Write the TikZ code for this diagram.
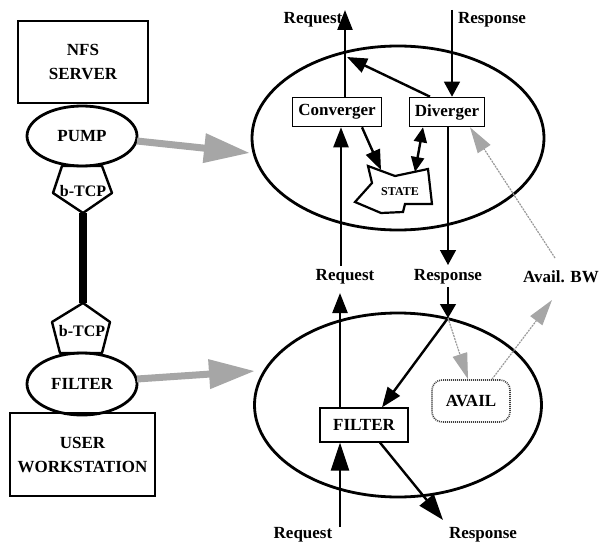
\documentclass[tikz,border=0pt]{standalone}
\usepackage{fontspec}
\setmainfont{Liberation Serif}
\usetikzlibrary{arrows.meta,shapes.geometric}
\begin{document}
\begin{tikzpicture}[x=1pt,y=-1pt,
  lbl/.style={font=\fontsize{17}{19}\selectfont\bfseries, inner sep=0pt},
  boxn/.style={draw, line width=1.6pt, font=\fontsize{17}{24}\selectfont\bfseries, inner sep=0pt, align=center},
  oval/.style={draw, ellipse, line width=2.8pt, inner sep=0pt},
  blk/.style={line width=2.4pt, -{Triangle[length=20pt,width=15pt]}},
  blkboth/.style={line width=2.4pt, {Triangle[length=15pt,width=13pt]}-{Triangle[length=15pt,width=13pt]}},
  gthick/.style={line width=7pt, draw=gray!70, -{Triangle[length=46pt,width=28pt]}},
  gthin/.style={line width=1.2pt, draw=gray!80, dash pattern=on 2pt off 1pt, -{Triangle[length=26pt,width=15pt,color=gray!70]}}
]
\useasboundingbox (0,0) rectangle (600,543);

% left column
\node[boxn, minimum width=130pt, minimum height=82pt] (nfs) at (83,62) {NFS\\SERVER};
\node[oval, minimum width=110pt, minimum height=60pt, font=\fontsize{17}{19}\selectfont\bfseries] (pump) at (82,136) {PUMP};
\draw[line width=2.4pt, line join=round] (62,166) -- (102,166) -- (112,193) -- (83,213) -- (53,193) -- cycle;
\node[lbl, font=\fontsize{16}{18}\selectfont\bfseries] (btcp1) at (83,191) {b-TCP};
\coordinate (p1) at (83,213);
\draw[line width=2.4pt, line join=round] (83,303) -- (110,322) -- (102,353) -- (60,353) -- (52,322) -- cycle;
\node[lbl, font=\fontsize{16}{18}\selectfont\bfseries] (btcp2) at (82,331) {b-TCP};
\coordinate (p2) at (83,303);
\draw[line width=8pt] (p1) -- (p2);
\node[oval, minimum width=110pt, minimum height=62pt, font=\fontsize{17}{19}\selectfont\bfseries] (filt) at (82,384) {FILTER};
\node[boxn, minimum width=145pt, minimum height=83pt] (user) at (82.5,454.5) {USER\\WORKSTATION};

% ellipses
\node[oval, minimum width=292pt, minimum height=184pt] (top) at (398,138) {};
\node[oval, minimum width=287pt, minimum height=184pt] (bot) at (398,405) {};

\coordinate (pumpR) at (137,141);
\coordinate (topL) at (250,153);
\draw[gthick] (pumpR) -- (topL);
\coordinate (filtR) at (137,379);
\coordinate (botL) at (255,371);
\draw[gthick] (filtR) -- (botL);

% top ellipse contents
\node[boxn, minimum width=89pt, minimum height=29pt] (conv) at (337,112) {Converger};
\node[boxn, minimum width=75pt, minimum height=29pt] (div) at (447,112) {Diverger};
\draw[line width=2.2pt, line join=miter] (368,166) -- (395,176) -- (428,169) -- (432,204) -- (405,204) -- (403,212) -- (381,213) -- (355,202) -- (372,183) -- cycle;
\node[lbl, font=\fontsize{12}{14}\selectfont\bfseries] (state) at (400,192) {STATE};

\node[lbl] (reqT) at (313,20) {Request};
\node[lbl] (respT) at (492,20) {Response};
\coordinate (reqTop) at (345,10);
\coordinate (respTop) at (452,10);
\draw[blk] ([xshift=8pt]conv.north) -- (reqTop);
\draw[line width=1.4pt, -{Triangle[length=15pt,width=16pt]}] (respTop) -- ([xshift=5pt]div.north);
\coordinate (junc) at (347,57);
\draw[blk] ([xshift=-17pt]div.north) -- (junc);
\draw[blk] ([xshift=25pt]conv.south) -- (381,170);
\draw[blkboth] ([xshift=-24pt]div.south) -- (415,172);

% middle labels
\node[lbl] (reqM) at (345,277) {Request};
\node[lbl] (respM) at (448,277) {Response};
\node[lbl, anchor=east] (bwM) at (599,277) {Avail. BW};
\draw[blk] (341,266) -- ([xshift=4pt]conv.south);
\draw[line width=1.4pt, -{Triangle[length=15pt,width=16pt]}] ([xshift=1pt]div.south) -- (448,265);
\draw[gthin] (555,258) -- ([xshift=23pt]div.south);

% bottom ellipse contents
\node[boxn, line width=1.2pt, minimum width=88pt, minimum height=34pt] (fbox) at (364,425) {FILTER};
\node[draw=black!75, dash pattern=on 1pt off 1pt, line width=1.6pt, rounded corners=10pt, minimum width=78pt, minimum height=42pt, font=\fontsize{17}{19}\selectfont\bfseries, inner sep=0pt] (avail) at (471,401) {AVAIL};
\draw[blk] ([xshift=-24pt]fbox.north) -- (340,293);
\coordinate (split) at (448,318);
\draw[line width=1.4pt, -{Triangle[length=14pt,width=16pt]}] (448,287) -- (split);
\draw[blk] (split) -- ([xshift=18pt]fbox.north);
\draw[gthin] (split) -- ([xshift=-3pt]avail.north);
\draw[gthin] ([xshift=21pt]avail.north) -- (552,300);

\node[lbl] (reqB) at (303,535) {Request};
\node[lbl] (respB) at (483,535) {Response};
\draw[line width=2.4pt, -{Triangle[length=28pt,width=18pt]}] (340,527) -- ([xshift=-24pt]fbox.south);
\draw[line width=2.4pt, -{Triangle[length=26pt,width=18pt]}] ([xshift=16pt]fbox.south) -- (443,520);
\end{tikzpicture}
\end{document}
